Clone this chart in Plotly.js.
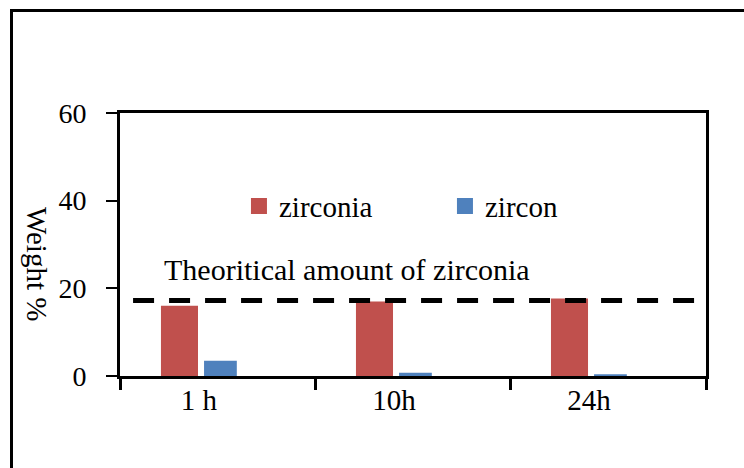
<!DOCTYPE html>
<html>
<head>
<meta charset="utf-8">
<script src="https://cdn.plot.ly/plotly-3.0.1.min.js"></script>
<style>
html,body{margin:0;padding:0;background:#fff;overflow:hidden;}
#chart{width:744px;height:468px;position:absolute;left:0;top:0;}
#frame{position:absolute;left:10px;top:9px;width:900px;height:700px;border-left:3px solid #000;border-top:3px solid #000;pointer-events:none;}
</style>
</head>
<body>
<div id="chart"></div>
<div id="frame"></div>
<script>
// Data
var categories = ["1 h", "10h", "24h"];
var categoryPos = [0, 1, 2];
var seriesNames = ["zirconia", "zircon"];
var seriesColors = ["#C0504D", "#4F81BD"];
var zirconia = [16.0, 17.0, 17.7];
var zircon = [3.5, 0.75, 0.4];
var theoreticalZirconia = 17.2;
var theoreticalLabel = "Theoritical amount of zirconia";
var yTicks = [0, 20, 40, 60];

var FONT = "Liberation Serif";

var traces = [
  {
    type: "bar", name: seriesNames[0], x: categoryPos, y: zirconia,
    width: 0.19, offset: -0.195, showlegend: false, legendgroup: "a",
    marker: {color: seriesColors[0]}, hoverinfo: "y"
  },
  {
    type: "bar", name: seriesNames[1], x: categoryPos, y: zircon,
    width: 0.168, offset: 0.026, showlegend: false, legendgroup: "b",
    marker: {color: seriesColors[1]}, hoverinfo: "y"
  },
  {
    type: "scatter", mode: "lines", name: "theoretical", showlegend: false,
    x: [-0.338, 2.6], y: [theoreticalZirconia, theoreticalZirconia],
    line: {color: "#000", width: 5, dash: "21px,15px"}, hoverinfo: "skip"
  },
  // legend entries (square swatches like the original)
  {
    type: "scatter", mode: "markers", name: seriesNames[0], x: [null], y: [null], legendgroup: "a",
    marker: {symbol: "square", size: 17, color: seriesColors[0]}
  },
  {
    type: "scatter", mode: "markers", name: seriesNames[1], x: [null], y: [null], legendgroup: "b",
    marker: {symbol: "square", size: 17, color: seriesColors[1]}
  }
];

var layout = {
  width: 744, height: 468,
  margin: {l: 120, r: 38, t: 113, b: 92},
  paper_bgcolor: "#fff", plot_bgcolor: "#fff",
  font: {family: FONT, size: 29, color: "#000"},
  barmode: "overlay",
  showlegend: true,
  legend: {
    orientation: "h", x: 0.203, y: 0.646, xanchor: "left", yanchor: "middle",
    bgcolor: "rgba(0,0,0,0)", font: {family: FONT, size: 29, color: "#000"},
    entrywidth: 161, entrywidthmode: "pixels", traceorder: "normal", itemsizing: "trace"
  },
  xaxis: {
    range: [-0.405, 2.6], showgrid: false, zeroline: false,
    tickmode: "array", tickvals: categoryPos, ticktext: categories,
    ticks: "", showline: true, linecolor: "#000", linewidth: 3, mirror: true,
    ticklabelstandoff: -4,
    tickfont: {family: FONT, size: 29, color: "#000"},
    minor: {tickmode: "array", tickvals: [-0.405, 0.6, 1.6, 2.6], ticks: "outside", ticklen: 11, tickwidth: 3, tickcolor: "#000", showgrid: false},
    fixedrange: true
  },
  yaxis: {
    range: [0, 60], tickmode: "array", tickvals: yTicks, showgrid: false, zeroline: false,
    ticks: "outside", ticklen: 11, tickwidth: 2, tickcolor: "#000",
    showline: true, linecolor: "#000", linewidth: 3, mirror: true,
    ticklabelstandoff: 14,
    tickfont: {family: FONT, size: 28, color: "#000"},
    fixedrange: true
  },
  annotations: [
    {
      text: theoreticalLabel, xref: "x", yref: "y", x: -0.19, y: 24.2,
      xanchor: "left", yanchor: "middle", showarrow: false,
      font: {family: FONT, size: 30, color: "#000"}
    },
    {
      text: "Weight %", xref: "paper", yref: "paper", x: -0.1416, y: 0.426,
      xanchor: "center", yanchor: "middle", showarrow: false, textangle: 90,
      font: {family: FONT, size: 29, color: "#000"}
    }
  ]
};

Plotly.newPlot("chart", traces, layout, {displayModeBar: false, staticPlot: true});
</script>
</body>
</html>
